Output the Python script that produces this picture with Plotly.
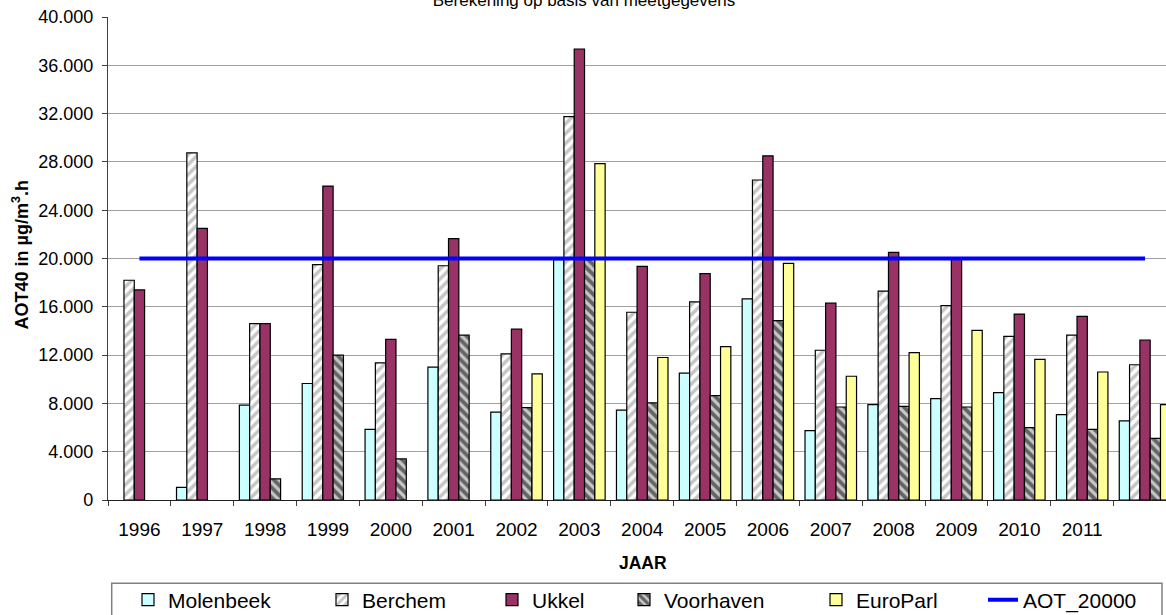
import plotly.graph_objects as go

years = ["1996", "1997", "1998", "1999", "2000", "2001", "2002", "2003", "2004",
         "2005", "2006", "2007", "2008", "2009", "2010", "2011", "2012"]
tick_labels = ["1996", "1997", "1998", "1999", "2000", "2001", "2002", "2003", "2004",
               "2005", "2006", "2007", "2008", "2009", "2010", "2011", ""]

molenbeek = [None, 1050, 7850, 9650, 5850, 11000, 7280, 19900, 7450, 10500, 16650,
             5750, 7900, 8400, 8900, 7070, 6550]
berchem = [18200, 28750, 14600, 19500, 11350, 19400, 12100, 31750, 15550, 16400, 26500,
           12400, 17300, 16100, 13550, 13650, 11200]
ukkel = [17400, 22500, 14600, 26000, 13300, 21650, 14150, 37350, 19350, 18750, 28500,
         16300, 20500, 19950, 15400, 15200, 13250]
voorhaven = [None, None, 1750, 12000, 3400, 13650, 7650, 19900, 8050, 8650, 14850,
             7700, 7750, 7700, 6000, 5850, 5100]
europarl = [None, None, None, None, None, None, 10450, 27850, 11800, 12700, 19600,
            10250, 12200, 14050, 11650, 10600, 7900]
aot_20000 = [20000, 20000, 20000, 20000, 20000, 20000, 20000, 20000, 20000,
             20000, 20000, 20000, 20000, 20000, 20000, 20000, 20000]

FONT = "Arial, Liberation Sans, sans-serif"
W, H = 1166, 615
ML, MT, MB = 108, 17, 115
PW = W - ML
PH = H - MT - MB
CAT_W = 62.85


def px_to_paper_x(px):
    return (px - ML) / PW


def px_to_paper_y(py):
    return (H - MB - py) / PH


edge = dict(color="black", width=1.2)

fig = go.Figure()
fig.add_trace(go.Bar(name="Molenbeek", x=years, y=molenbeek, legend="legend",
                     marker=dict(color="#CCFFFF", line=edge)))
fig.add_trace(go.Bar(name="Berchem", x=years, y=berchem, legend="legend2",
                     marker=dict(color="white", line=edge,
                                 pattern=dict(shape="/", fgcolor="#8C8C8C", bgcolor="white",
                                              size=7, solidity=0.5))))
fig.add_trace(go.Bar(name="Ukkel", x=years, y=ukkel, legend="legend3",
                     marker=dict(color="#993366", line=edge)))
fig.add_trace(go.Bar(name="Voorhaven", x=years, y=voorhaven, legend="legend4",
                     marker=dict(color="#C0C0C0", line=edge,
                                 pattern=dict(shape="\\", fgcolor="black", bgcolor="#C8C8C8",
                                              size=7, solidity=0.55))))
fig.add_trace(go.Bar(name="EuroParl", x=years, y=europarl, legend="legend5",
                     marker=dict(color="#FFFF99", line=edge)))
fig.add_trace(go.Scatter(name="AOT_20000", x=years, y=aot_20000, mode="lines",
                         legend="legend6", line=dict(color="#0000FF", width=4)))

legend_base = dict(xref="container", yref="container", orientation="h",
                   yanchor="middle", xanchor="left", bgcolor="rgba(0,0,0,0)",
                   borderwidth=0, font=dict(family=FONT, size=21, color="black"))
leg_y = 1 - 600 / H
legend_left_px = [128, 322, 492, 624, 816, 983]
legends = {}
for i, lx in enumerate(legend_left_px):
    key = "legend" if i == 0 else f"legend{i+1}"
    legends[key] = dict(legend_base, x=lx / W, y=leg_y)

fig.update_layout(
    width=W, height=H,
    margin=dict(l=ML, r=0, t=MT, b=MB, autoexpand=False),
    paper_bgcolor="white", plot_bgcolor="white",
    separators=",.",
    barmode="group", bargap=0.18, bargroupgap=0,
    showlegend=True,
    font=dict(family=FONT, color="black"),
    title=dict(text="Berekening op basis van meetgegevens",
               x=584 / W, xanchor="center", xref="container",
               y=1.0, yanchor="middle", yref="container",
               font=dict(family=FONT, size=17, color="black")),
    xaxis=dict(type="category", categoryorder="array", categoryarray=years,
               range=[-0.5, -0.5 + PW / CAT_W],
               tickmode="array", tickvals=years, ticktext=tick_labels,
               tickson="boundaries", ticks="outside", ticklen=5, tickcolor="#404040",
               ticklabelstandoff=12,
               showline=True, linecolor="#202020", linewidth=1.2,
               showgrid=False, zeroline=False,
               tickfont=dict(family=FONT, size=19, color="black")),
    yaxis=dict(range=[0, 40000], dtick=4000, tick0=0, tickformat=",d",
               ticks="outside", ticklen=5, tickcolor="#404040", ticklabelstandoff=5,
               showline=True, linecolor="#404040", linewidth=1.2,
               showgrid=True, gridcolor="#A0A0A0", gridwidth=1,
               zeroline=False,
               tickfont=dict(family=FONT, size=18, color="black")),
    annotations=[
        dict(text="<b>JAAR</b>", xref="paper", yref="paper",
             x=px_to_paper_x(642.5), y=px_to_paper_y(562.5), xanchor="center",
             yanchor="middle", showarrow=False,
             font=dict(family=FONT, size=17.5, color="black")),
        dict(text="<b>AOT40 in µg/m<sup>3</sup>.h</b>", xref="paper", yref="paper",
             x=px_to_paper_x(21), y=px_to_paper_y(255.5), xanchor="center",
             yanchor="middle", textangle=-90, showarrow=False,
             font=dict(family=FONT, size=18, color="black")),
    ],
    shapes=[
        dict(type="rect", xref="paper", yref="paper",
             x0=px_to_paper_x(111.7), x1=px_to_paper_x(1162),
             y0=px_to_paper_y(583.3), y1=px_to_paper_y(640),
             line=dict(color="#808080", width=1.5), fillcolor="rgba(0,0,0,0)"),
    ],
    **legends,
)

fig.write_html("out.html", config={"displayModeBar": False},
               post_script="document.body.style.margin='0px';")
